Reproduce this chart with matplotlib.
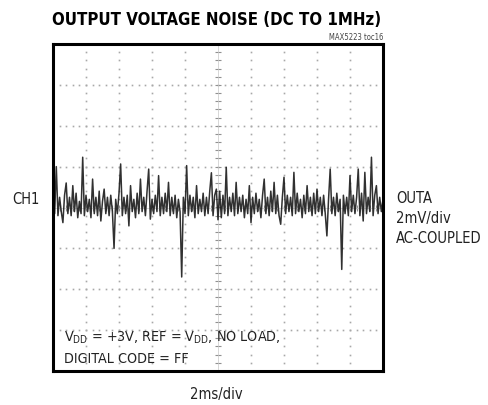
import numpy as np
import matplotlib
matplotlib.use("Agg")
from matplotlib import pyplot as plt

# scope settings: 10 x 8 divisions, 2ms/div and 2mV/div
ms_per_div = 2.0
mv_per_div = 2.0
n_xdiv = 10
n_ydiv = 8

# trace, one sample every 0.1 ms (mV)
sample_step_ms = 0.1
trace_mv = [
    0.4, -0.3, 2.0, -0.4, 0.5, -0.2, -0.74, 0.6, 1.2, -0.3,
    0.5, -0.4, 1.07, -0.2, 0.7, -0.5, 0.3, -0.3, 2.46, -0.4,
    0.6, -0.2, 0.4, -0.5, 1.39, -0.3, 0.5, -0.4, 0.8, -0.66,
    0.3, 0.9, -0.3, 0.5, -0.4, 0.6, -0.2, -2.0, 0.4, -0.3,
    0.7, 2.13, -0.4, 0.5, -0.3, 0.6, -0.9, 1.07, -0.2, 0.4,
    -0.5, 0.7, -0.3, 1.39, -0.2, 0.5, -0.4, 0.8, 1.88, -0.57,
    0.4, -0.3, 0.6, -0.2, 1.56, -0.4, 0.5, -0.3, 0.7, -0.2,
    1.23, -0.4, 0.5, -0.3, 0.6, -0.5, 0.4, -0.2, -3.4, 0.5,
    -0.3, 2.05, -0.4, 0.6, -0.2, 0.5, -0.5, 1.07, -0.3, 0.4,
    -0.2, 0.7, -0.4, 0.5, -0.3, 0.8, 1.7, -0.4, 0.6, 0.9,
    -0.6, 0.8, -0.5, 0.6, -0.3, 1.97, -0.4, 0.5, -0.2, 0.7,
    -0.4, 1.23, -0.3, 0.5, -0.2, 0.6, -0.5, 0.4, -0.3, 1.07,
    -0.74, 0.5, -0.3, 0.7, -0.2, 0.4, -0.5, 0.6, 1.39, -0.3,
    0.5, -0.4, 0.8, -0.2, 1.23, -0.3, 0.6, -0.4, -0.82, 0.5,
    1.48, -0.3, 0.6, -0.2, 0.5, -0.4, 1.72, -0.3, 0.7, -0.2,
    0.4, -0.5, 0.6, -0.3, 1.07, -0.2, 0.5, -0.4, 0.7, -0.3,
    0.9, -0.2, 0.5, -0.4, 0.6, -0.3, -1.39, 0.4, 1.88, -0.3,
    0.5, -0.4, 0.7, -0.2, 0.4, -3.03, 0.6, -0.3, 0.5, -0.4,
    1.56, -0.2, 0.6, -0.3, 0.5, 1.88, -0.4, 0.7, -0.66, 1.72,
    -0.3, 0.5, -0.2, 2.46, -0.4, 0.6, 1.07, -0.3, 0.5, -0.2,
    0.4,
]

title = "OUTPUT VOLTAGE NOISE (DC TO 1MHz)"
toc = "MAX5223 toc16"
left_label = "CH1"
right_labels = ["OUTA", "2mV/div", "AC-COUPLED"]
x_label = "2ms/div"
note_lines = [r"V$_{\mathrm{DD}}$ = +3V, REF = V$_{\mathrm{DD}}$, NO LOAD,",
              "DIGITAL CODE = FF"]

plt.rcParams["font.family"] = ["DejaVu Sans"]
plt.rcParams["font.stretch"] = "condensed"
plt.rcParams["mathtext.fontset"] = "dejavusans"

W, H = 488, 406
fig = plt.figure(figsize=(W / 100, H / 100), dpi=100)
ax = fig.add_axes([53 / W, 1 - 372 / H, 330 / W, 327 / H])

xmax = n_xdiv * ms_per_div
ymax = n_ydiv / 2 * mv_per_div
ax.set_xlim(0, xmax)
ax.set_ylim(-ymax, ymax)

# dotted graticule: a dot at every fifth of a division
grid_col = "#a8a8a8"
xminor = np.arange(0, xmax + 1e-9, ms_per_div / 5)
yminor = np.arange(-ymax, ymax + 1e-9, mv_per_div / 5)
for gx in np.arange(ms_per_div, xmax, ms_per_div):
    if abs(gx - xmax / 2) < 1e-9:
        continue
    ax.plot(np.full_like(yminor, gx), yminor, ls="none", marker="s",
            ms=1.2, color=grid_col, mew=0)
for gy in np.arange(-ymax + mv_per_div, ymax, mv_per_div):
    if abs(gy) < 1e-9:
        continue
    ax.plot(xminor, np.full_like(xminor, gy), ls="none", marker="s",
            ms=1.2, color=grid_col, mew=0)

# centre axes with small tick crosses
ax.plot(xminor, np.zeros_like(xminor), ls="none", marker="|", ms=4,
        mew=0.8, color="#909090")
ax.plot(np.full_like(yminor, xmax / 2), yminor, ls="none", marker="_", ms=4,
        mew=0.8, color="#909090")
ax.axhline(0, color="#c8c8c8", lw=0.5)
ax.axvline(xmax / 2, color="#c8c8c8", lw=0.5)

t = np.arange(len(trace_mv)) * sample_step_ms
ax.plot(t, trace_mv, color="#1a1a1a", lw=1.1, alpha=0.9)

ax.set_xticks([])
ax.set_yticks([])
for s in ax.spines.values():
    s.set_linewidth(2.2)
    s.set_color("black")

def ftext(x, y, s, **kw):
    fig.text(x / W, 1 - y / H, s, **kw)

ftext(52, 20, title, fontsize=12.1, fontweight="bold", ha="left", va="center")
ftext(383, 37, toc, fontsize=5.5, color="#444444", ha="right", va="center")
ftext(12, 200, left_label, fontsize=10.5, color="#222222", ha="left", va="center")
for i, s in enumerate(right_labels):
    ftext(396, 199 + 20 * i, s, fontsize=10.5, color="#222222", ha="left", va="center")
ftext(216, 395, x_label, fontsize=10.5, color="#222222", ha="center", va="center")
for i, s in enumerate(note_lines):
    ftext(64, 338 + 21 * i, s, fontsize=10.3, color="#222222", ha="left", va="center")

fig.savefig("out.png", dpi=100)
